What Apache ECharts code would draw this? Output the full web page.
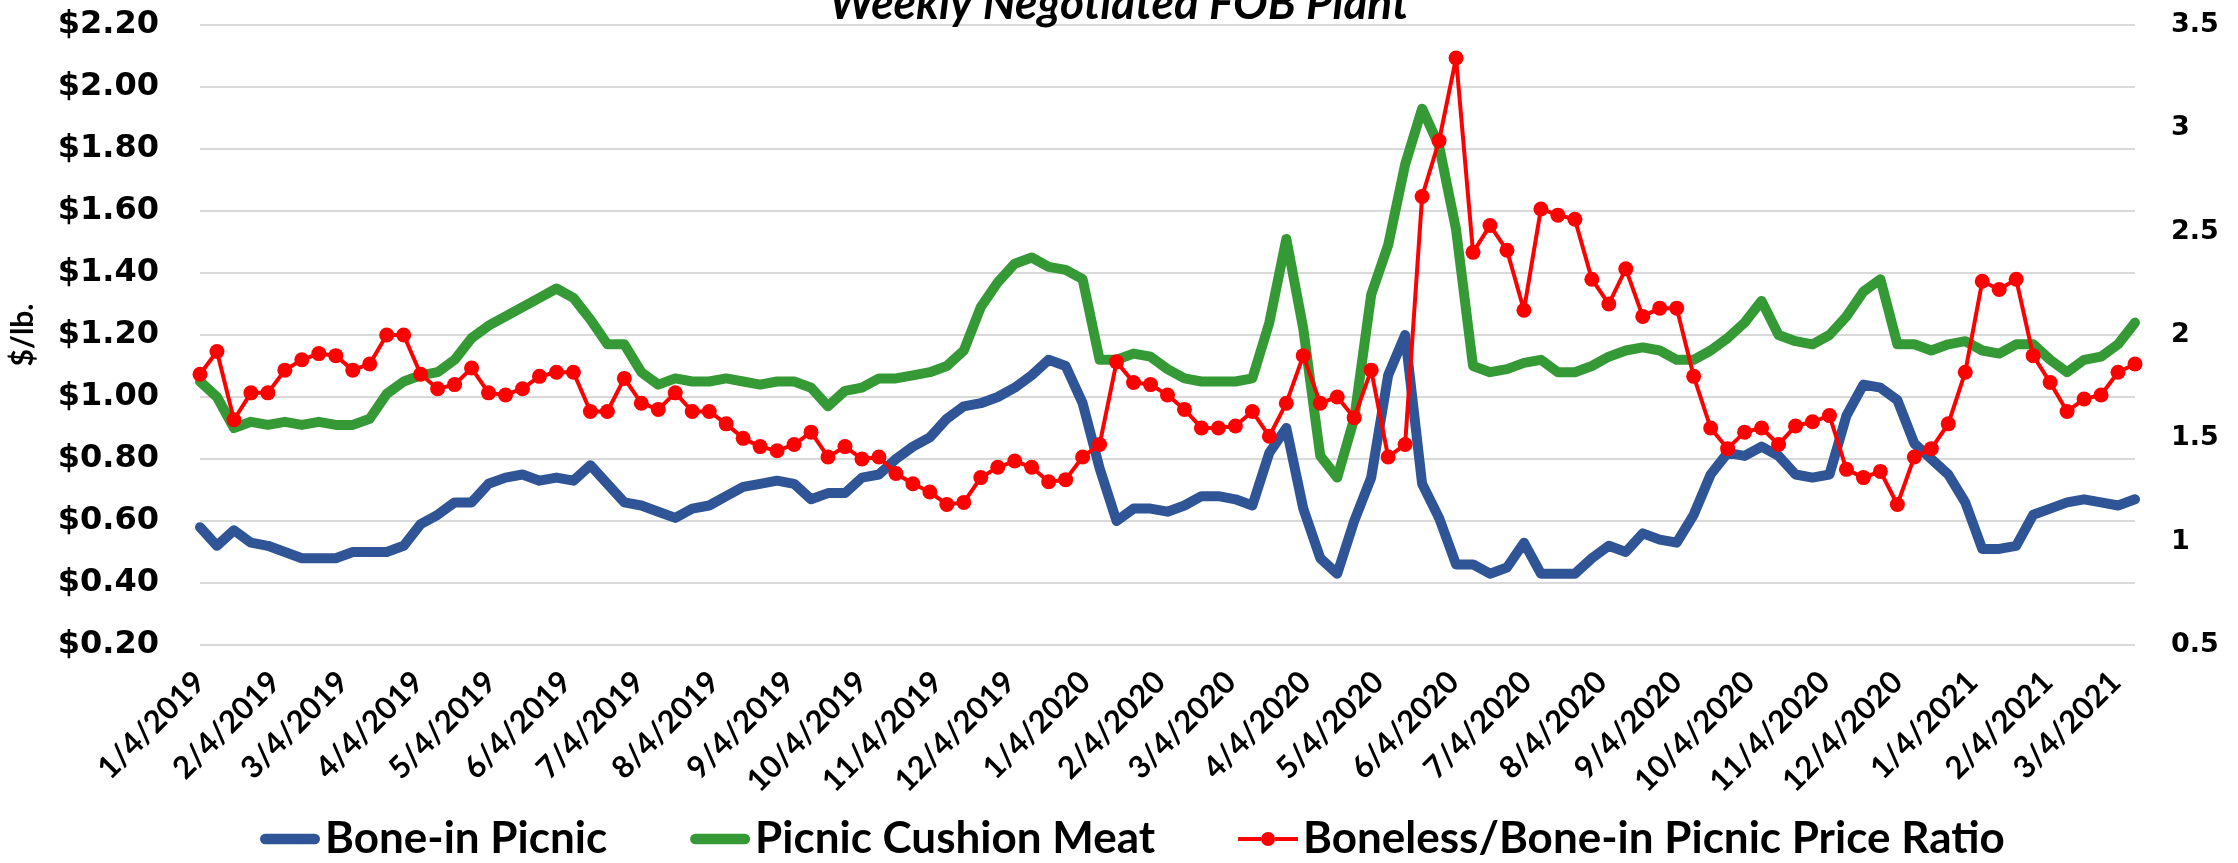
<!DOCTYPE html>
<html>
<head>
<meta charset="utf-8">
<title>Picnic prices</title>
<script src="https://cdn.jsdelivr.net/npm/echarts@6/dist/echarts.min.js"></script>
<style>
  html, body { margin: 0; padding: 0; background: #fff; }
  #chart { width: 2238px; height: 863px; }
</style>
</head>
<body>
<div id="chart"></div>
<script>
  // weekly prices, first week 1/4/2019, one value per week
  var firstWeek = '2019-01-04'
  var boneInPicnic = [
    0.58, 0.52, 0.57, 0.53, 0.52, 0.50, 0.48, 0.48, 0.48, 0.50,
    0.50, 0.50, 0.52, 0.59, 0.62, 0.66, 0.66, 0.72, 0.74, 0.75,
    0.73, 0.74, 0.73, 0.78, 0.72, 0.66, 0.65, 0.63, 0.61, 0.64,
    0.65, 0.68, 0.71, 0.72, 0.73, 0.72, 0.67, 0.69, 0.69, 0.74,
    0.75, 0.80, 0.84, 0.87, 0.93, 0.97, 0.98, 1.00, 1.03, 1.07,
    1.12, 1.10, 0.98, 0.77, 0.60, 0.64, 0.64, 0.63, 0.65, 0.68,
    0.68, 0.67, 0.65, 0.82, 0.90, 0.64, 0.48, 0.43, 0.60, 0.74,
    1.07, 1.20, 0.72, 0.61, 0.46, 0.46, 0.43, 0.45, 0.53, 0.43,
    0.43, 0.43, 0.48, 0.52, 0.50, 0.56, 0.54, 0.53, 0.62, 0.75,
    0.82, 0.81, 0.84, 0.81, 0.75, 0.74, 0.75, 0.94, 1.04, 1.03,
    0.99, 0.85, 0.80, 0.75, 0.66, 0.51, 0.51, 0.52, 0.62, 0.64,
    0.66, 0.67, 0.66, 0.65, 0.67
  ]
  var cushionMeat = [
    1.05, 1.00, 0.90, 0.92, 0.91, 0.92, 0.91, 0.92, 0.91, 0.91,
    0.93, 1.01, 1.05, 1.07, 1.08, 1.12, 1.19, 1.23, 1.26, 1.29,
    1.32, 1.35, 1.32, 1.25, 1.17, 1.17, 1.08, 1.04, 1.06, 1.05,
    1.05, 1.06, 1.05, 1.04, 1.05, 1.05, 1.03, 0.97, 1.02, 1.03,
    1.06, 1.06, 1.07, 1.08, 1.10, 1.15, 1.29, 1.37, 1.43, 1.45,
    1.42, 1.41, 1.38, 1.12, 1.12, 1.14, 1.13, 1.09, 1.06, 1.05,
    1.05, 1.05, 1.06, 1.24, 1.51, 1.22, 0.81, 0.74, 0.93, 1.33,
    1.49, 1.75, 1.93, 1.81, 1.54, 1.10, 1.08, 1.09, 1.11, 1.12,
    1.08, 1.08, 1.10, 1.13, 1.15, 1.16, 1.15, 1.12, 1.12, 1.15,
    1.19, 1.24, 1.31, 1.20, 1.18, 1.17, 1.20, 1.26, 1.34, 1.38,
    1.17, 1.17, 1.15, 1.17, 1.18, 1.15, 1.14, 1.17, 1.17, 1.12,
    1.08, 1.12, 1.13, 1.17, 1.24
  ]
  var priceRatio = [
    1.81, 1.92, 1.59, 1.72, 1.72, 1.83, 1.88, 1.91, 1.90, 1.83,
    1.86, 2.00, 2.00, 1.81, 1.74, 1.76, 1.84, 1.72, 1.71, 1.74,
    1.80, 1.82, 1.82, 1.63, 1.63, 1.79, 1.67, 1.64, 1.72, 1.63,
    1.63, 1.57, 1.50, 1.46, 1.44, 1.47, 1.53, 1.41, 1.46, 1.40,
    1.41, 1.33, 1.28, 1.24, 1.18, 1.19, 1.31, 1.36, 1.39, 1.36,
    1.29, 1.30, 1.41, 1.47, 1.87, 1.77, 1.76, 1.71, 1.64, 1.55,
    1.55, 1.56, 1.63, 1.51, 1.67, 1.90, 1.67, 1.70, 1.60, 1.83,
    1.41, 1.47, 2.67, 2.94, 3.34, 2.40, 2.53, 2.41, 2.12, 2.61,
    2.58, 2.56, 2.27, 2.15, 2.32, 2.09, 2.13, 2.13, 1.80, 1.55,
    1.45, 1.53, 1.55, 1.47, 1.56, 1.58, 1.61, 1.35, 1.31, 1.34,
    1.18, 1.41, 1.45, 1.57, 1.82, 2.26, 2.22, 2.27, 1.90, 1.77,
    1.63, 1.69, 1.71, 1.82, 1.86
  ]
  var leftTicks = [0.2, 2.2, 0.2]   // min, max, step ($/lb.)
  var rightTicks = [0.5, 3.5, 0.5]  // min, max, step (ratio)

  // date axis: one category per day, labels on the 4th of each month
  var DAY = 86400000
  var start = Date.parse(firstWeek + 'T00:00:00Z')
  var days = []
  for (var d = 0; d <= (boneInPicnic.length - 1) * 7; d++) {
    var t = new Date(start + d * DAY)
    days.push((t.getUTCMonth() + 1) + '/' + t.getUTCDate() + '/' + t.getUTCFullYear())
  }
  var weekly = function (arr) {
    return arr.map(function (v, i) { return [days[i * 7], v] })
  }

  var calib = "Lato, 'Open Sans', sans-serif"
  var wide = "'DejaVu Sans', Verdana, sans-serif"
  // legend icons drawn in a 60x14 box
  var thickIcon = 'path://M6,2 L54,2 A5,5 0 0 1 54,12 L6,12 A5,5 0 0 1 6,2 Z'
  var dotIcon = 'path://M0,5 L23,5 L23,9 L0,9 Z M37,5 L60,5 L60,9 L37,9 Z M23,7 A7,7 0 1 0 37,7 A7,7 0 1 0 23,7 Z'

  var chart = echarts.init(document.getElementById('chart'))
  chart.setOption({
    animation: false,
    title: {
      text: 'Weekly Negotiated FOB Plant',
      left: 'center',
      top: -24,
      textStyle: { fontFamily: calib, fontSize: 46, fontWeight: 'bold', fontStyle: 'italic', color: '#000' }
    },
    legend: {
      left: 255,
      top: 812,
      itemWidth: 60,
      itemHeight: 14,
      itemGap: 83,
      textStyle: { fontFamily: calib, fontSize: 44, fontWeight: 'bold', color: '#000' },
      data: [
        { name: 'Bone-in Picnic', icon: thickIcon },
        { name: 'Picnic Cushion Meat', icon: thickIcon },
        { name: 'Boneless/Bone-in Picnic Price Ratio', icon: dotIcon }
      ]
    },
    grid: { left: 195, right: 103, top: 25, bottom: 218, containLabel: false },
    xAxis: {
      type: 'category',
      boundaryGap: false,
      data: days,
      axisLine: { show: false },
      axisTick: { show: false },
      axisLabel: {
        rotate: 45,
        margin: 32,
        interval: function (index, value) { return value.split('/')[1] === '4' },
        fontFamily: calib,
        fontSize: 31,
        fontWeight: 'bold',
        color: '#000'
      }
    },
    yAxis: [
      {
        type: 'value',
        min: leftTicks[0],
        max: leftTicks[1],
        interval: leftTicks[2],
        name: '$/lb.',
        nameLocation: 'middle',
        nameRotate: 90,
        nameGap: 162,
        nameTextStyle: { fontFamily: calib, fontSize: 30, fontWeight: 'bold', color: '#000' },
        axisLine: { show: false },
        axisTick: { show: false },
        splitLine: { lineStyle: { color: '#d9d9d9', width: 2 } },
        axisLabel: {
          margin: 41,
          fontFamily: wide,
          fontSize: 32,
          fontWeight: 'bold',
          color: '#000',
          formatter: function (v) { return '$' + v.toFixed(2) }
        }
      },
      {
        type: 'value',
        position: 'right',
        min: rightTicks[0],
        max: rightTicks[1],
        interval: rightTicks[2],
        axisLine: { show: false },
        axisTick: { show: false },
        splitLine: { show: false },
        axisLabel: {
          margin: 36,
          fontFamily: wide,
          fontSize: 27,
          fontWeight: 'bold',
          color: '#000',
          formatter: function (v) { return String(+v.toFixed(1)) }
        }
      }
    ],
    series: [
      {
        name: 'Bone-in Picnic',
        type: 'line',
        symbol: 'none',
        data: weekly(boneInPicnic),
        itemStyle: { color: '#2f5597' },
        lineStyle: { color: '#2f5597', width: 10, cap: 'round', join: 'round' }
      },
      {
        name: 'Picnic Cushion Meat',
        type: 'line',
        symbol: 'none',
        data: weekly(cushionMeat),
        itemStyle: { color: '#359a35' },
        lineStyle: { color: '#359a35', width: 10, cap: 'round', join: 'round' }
      },
      {
        name: 'Boneless/Bone-in Picnic Price Ratio',
        type: 'line',
        yAxisIndex: 1,
        symbol: 'circle',
        symbolSize: 15,
        showAllSymbol: true,
        data: weekly(priceRatio),
        itemStyle: { color: '#ff0000' },
        lineStyle: { color: '#ff0000', width: 4, join: 'round' }
      }
    ]
  })
</script>
</body>
</html>
